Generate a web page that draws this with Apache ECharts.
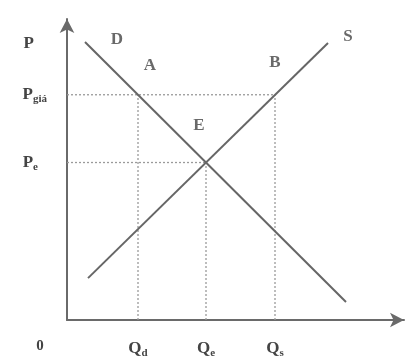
<!DOCTYPE html>
<html>
<head>
<meta charset="utf-8">
<script src="https://cdn.jsdelivr.net/npm/echarts@6/dist/echarts.min.js"></script>
<style>
  html, body { margin: 0; padding: 0; background: #fff; }
  #chart { width: 411px; height: 359px; }
</style>
</head>
<body>
<div id="chart"></div>
<script>
// duong cau (D) va duong cung (S)
const demandLine = [[18, 279], [279, 18]];
const supplyLine = [[21, 42], [261, 278]];

// cac muc luong va gia
const qValues = [0, 71, 139, 208];
const qLabels = ['0', 'Q|d', 'Q|e', 'Q|s'];
const pValues = [158, 226, 277];
const pLabels = ['P|e', 'P|giá', 'P'];

// ten cac diem tren do thi
const pointNames = ['D', 'A', 'B', 'S', 'E'];
const pointPos = [[50, 281], [83, 255], [208, 258], [281, 284], [132, 195]];

const Qd = qValues[1], Qe = qValues[2], Qs = qValues[3];
const Pe = pValues[0], Pg = pValues[1];

const guides = [
    [[0, Pg], [Qs, Pg]],
    [[Qd, 0], [Qd, Pg]],
    [[Qs, 0], [Qs, Pg]],
    [[0, Pe], [Qe, Pe]],
    [[Qe, 0], [Qe, Pe]]
];

const txt = '#444';
const serif = 'Liberation Serif';
const rich = {
    m: { fontFamily: serif, fontWeight: 'bold', fontSize: 17, color: txt },
    s: { fontFamily: serif, fontWeight: 'bold', fontSize: 11, color: txt, padding: [9, 0, 0, 0] },
    se: { fontFamily: serif, fontWeight: 'bold', fontSize: 11, color: txt, padding: [9, 9, 0, 0] },
    p: { fontFamily: serif, fontWeight: 'bold', fontSize: 17, color: txt, padding: [0, 13, 0, 0] },
    z: { fontFamily: serif, fontWeight: 'bold', fontSize: 15, color: txt, padding: [0, 54, 0, 0] }
};

function richLabel(s) {
    if (s === '0') return '{z|0}';
    if (s === 'P') return '{p|P}';
    if (s === 'P|e') return '{m|P}{se|e}';
    const parts = s.split('|');
    return parts.length > 1 ? `{m|${parts[0]}}{s|${parts[1]}}` : `{m|${parts[0]}}`;
}

const chart = echarts.init(document.getElementById('chart'));

const series = [];
guides.forEach(g => {
    series.push({
        type: 'line', data: g, symbol: 'none', silent: true,
        lineStyle: { color: '#9a9a9a', width: 1.3, type: [2, 2] }
    });
});
series.push({
    type: 'line', data: demandLine, symbol: 'none',
    lineStyle: { color: '#666', width: 2 }
});
series.push({
    type: 'line', data: supplyLine, symbol: 'none',
    lineStyle: { color: '#666', width: 2 }
});
series.push({
    type: 'scatter', symbolSize: 0, clip: false,
    data: pointPos.map((p, i) => ({ value: p, name: pointNames[i] })),
    label: {
        show: true, position: 'inside', formatter: '{b}',
        fontFamily: serif, fontWeight: 'bold', fontSize: 17, color: txt
    }
});

chart.setOption({
    backgroundColor: '#fff',
    animation: false,
    grid: { left: 67, right: 7, top: 19, bottom: 38 },
    xAxis: {
        type: 'value', min: 0, max: 337,
        splitLine: { show: false },
        axisLine: { lineStyle: { color: '#6a6a6a', width: 2 }, symbol: ['none', 'arrow'], symbolSize: [11, 14] },
        axisTick: { show: false },
        axisLabel: {
            customValues: qValues, margin: 19,
            formatter: v => richLabel(qLabels[qValues.indexOf(v)]),
            rich: rich
        }
    },
    yAxis: {
        type: 'value', min: 0, max: 302,
        splitLine: { show: false },
        axisLine: { lineStyle: { color: '#6a6a6a', width: 2 }, symbol: ['none', 'arrow'], symbolSize: [11, 14] },
        axisTick: { show: false },
        axisLabel: {
            customValues: pValues, margin: 20,
            formatter: v => richLabel(pLabels[pValues.indexOf(v)]),
            rich: rich
        }
    },
    series: series
});
</script>
</body>
</html>
